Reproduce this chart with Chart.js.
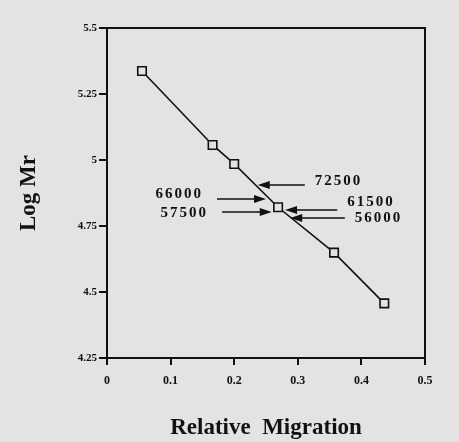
<!DOCTYPE html>
<html>
<head>
<meta charset="utf-8">
<script src="https://cdn.jsdelivr.net/npm/chart.js@4/dist/chart.umd.min.js"></script>
<style>
  html, body { margin: 0; padding: 0; background: #e3e3e3; }
  #wrap { width: 459px; height: 442px; }
</style>
</head>
<body>
<div id="wrap"><canvas id="chart" width="459" height="442"></canvas></div>
<script>
// standards: relative migration vs log Mr
const migration = [0.055, 0.166, 0.200, 0.269, 0.357, 0.436];
const logMr = [5.337, 5.057, 4.985, 4.821, 4.649, 4.457];

// arrows pointing at the line (label, log Mr, tail x, head x)
const arrowLabels = ['72500', '66000', '57500', '61500', '56000'];
const arrowY = [4.905, 4.852, 4.803, 4.811, 4.780];
const arrowTail = [0.311, 0.173, 0.181, 0.362, 0.374];
const arrowHead = [0.237, 0.250, 0.259, 0.280, 0.288];

const yTicks = [4.25, 4.5, 4.75, 5, 5.25, 5.5];
const xTicks = [0, 0.1, 0.2, 0.3, 0.4, 0.5];

const serif = '"Liberation Serif", "DejaVu Serif", serif';

const boxAndArrows = {
    id: 'boxAndArrows',
    afterDatasetsDraw(chart) {
        const ctx = chart.ctx;
        const a = chart.chartArea;
        const xs = chart.scales.x, ys = chart.scales.y;
        // label nudges relative to their arrow, px
        const labelDy = [-4, -5, 1, -8, 0];
        ctx.save();
        // top and right frame
        ctx.strokeStyle = '#111';
        ctx.lineWidth = 2;
        ctx.beginPath();
        ctx.moveTo(a.left, a.top);
        ctx.lineTo(a.right, a.top);
        ctx.lineTo(a.right, a.bottom);
        ctx.stroke();

        ctx.font = 'bold 15px ' + serif;
        ctx.letterSpacing = '2px';
        ctx.fillStyle = '#111';
        ctx.textBaseline = 'middle';
        arrowLabels.forEach((lbl, i) => {
            const y = ys.getPixelForValue(arrowY[i]);
            const x0 = xs.getPixelForValue(arrowTail[i]);
            const x1 = xs.getPixelForValue(arrowHead[i]);
            const dir = x1 > x0 ? 1 : -1;
            ctx.lineWidth = 1.5;
            ctx.beginPath();
            ctx.moveTo(x0, y);
            ctx.lineTo(x1 - dir * 6, y);
            ctx.stroke();
            ctx.beginPath();
            ctx.moveTo(x1, y);
            ctx.lineTo(x1 - dir * 12, y - 4);
            ctx.lineTo(x1 - dir * 12, y + 4);
            ctx.closePath();
            ctx.fill();
            if (dir > 0) {
                ctx.textAlign = 'right';
                ctx.fillText(lbl, x0 - 14, y + labelDy[i]);
            } else {
                ctx.textAlign = 'left';
                ctx.fillText(lbl, x0 + 10, y + labelDy[i]);
            }
        });
        ctx.restore();
    }
};

new Chart(document.getElementById('chart').getContext('2d'), {
    type: 'scatter',
    data: {
        datasets: [{
            data: migration.map((m, i) => ({ x: m, y: logMr[i] })),
            showLine: true,
            borderColor: '#111',
            borderWidth: 1.6,
            pointStyle: 'rect',
            pointRadius: 6,
            pointBorderWidth: 1.6,
            pointBorderColor: '#111',
            pointBackgroundColor: '#e3e3e3'
        }]
    },
    options: {
        responsive: false,
        animation: false,
        layout: { padding: { top: 28, right: 34, left: 0, bottom: 0 } },
        plugins: { legend: { display: false }, tooltip: { enabled: false } },
        scales: {
            x: {
                type: 'linear',
                min: 0, max: 0.5,
                afterBuildTicks: s => { s.ticks = xTicks.map(v => ({ value: v })); },
                afterFit: s => { s.height = 84; },
                border: { display: true, color: '#111', width: 2 },
                grid: { drawOnChartArea: false, drawTicks: true, tickLength: 7, color: '#111', lineWidth: 2 },
                ticks: {
                    color: '#111', padding: 9, maxRotation: 0,
                    font: { family: serif, size: 12, weight: 'bold' },
                    callback: v => String(v)
                },
                title: {
                    display: true, text: 'Relative  Migration', color: '#111',
                    font: { family: serif, size: 23, weight: 'bold' },
                    padding: { top: 0, bottom: 0 }
                }
            },
            y: {
                type: 'linear',
                min: 4.25, max: 5.5,
                afterBuildTicks: s => { s.ticks = yTicks.map(v => ({ value: v })); },
                afterFit: s => { s.width = 107; },
                border: { display: true, color: '#111', width: 2 },
                grid: { drawOnChartArea: false, drawTicks: true, tickLength: 8, color: '#111', lineWidth: 2 },
                ticks: {
                    color: '#111', padding: 2,
                    font: { family: serif, size: 11, weight: 'bold' },
                    callback: v => String(v)
                },
                title: {
                    display: true, text: 'Log Mr', color: '#111',
                    font: { family: serif, size: 23, weight: 'bold' },
                    padding: { top: 15, bottom: 0 }
                }
            }
        }
    },
    plugins: [boxAndArrows]
});
</script>
</body>
</html>
